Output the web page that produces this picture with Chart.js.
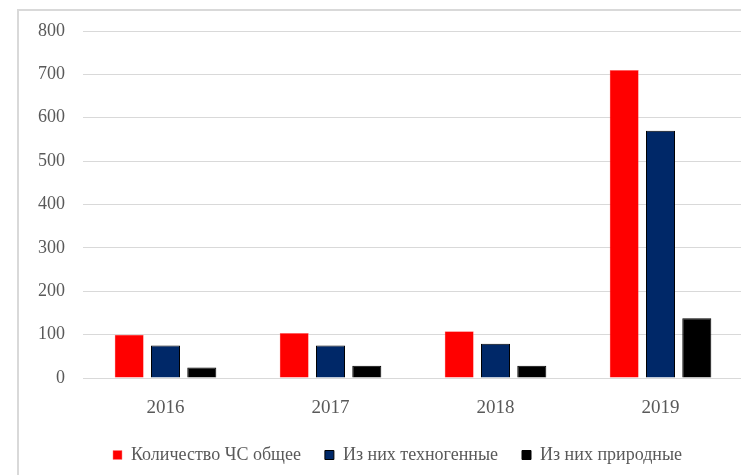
<!DOCTYPE html>
<html>
<head>
<meta charset="utf-8">
<script src="https://cdn.jsdelivr.net/npm/chart.js@4"></script>
<style>
  html, body { margin: 0; padding: 0; background: #fff; overflow: hidden; width: 741px; height: 475px; }
  #frame { position: absolute; left: 17px; top: 9px; width: 800px; height: 600px; border-left: 2px solid #d9d9d9; border-top: 2px solid #d9d9d9; }
  #wrap { position: absolute; left: 0; top: 0; width: 743px; height: 475px; }
</style>
</head>
<body>
<div id="frame"></div>
<div id="wrap"><canvas id="c" width="743" height="475"></canvas></div>
<script>
const categories = ['2016', '2017', '2018', '2019'];
const seriesNames = ['Количество ЧС общее', 'Из них техногенные', 'Из них природные'];
const totalValues = [100, 104, 108, 710];
const technoValues = [75, 75, 79, 570];
const naturalValues = [24, 28, 28, 138];
const yTicks = [0, 100, 200, 300, 400, 500, 600, 700, 800];

const textGray = '#595959';
const serif = '"Liberation Serif", "Times New Roman", serif';

const legendShift = {
  id: 'legendShift',
  afterLayout(chart) {
    const l = chart.legend;
    if (l) { l.left += 26; l.right += 26; }
  }
};

new Chart(document.getElementById('c'), {
  type: 'bar',
  data: {
    labels: categories,
    datasets: [
      { label: seriesNames[0], data: totalValues, backgroundColor: '#ff0000', borderColor: '#ff8080', borderWidth: 0.5 },
      { label: seriesNames[1], data: technoValues, backgroundColor: '#002868', borderColor: '#000000', borderWidth: 1 },
      { label: seriesNames[2], data: naturalValues, backgroundColor: '#000000', borderColor: '#000000', borderWidth: 1 }
    ]
  },
  plugins: [legendShift],
  options: {
    responsive: false,
    animation: false,
    devicePixelRatio: 1,
    layout: { padding: { top: 31, right: 0, bottom: 1, left: 0 } },
    datasets: { bar: { categoryPercentage: 0.66, barPercentage: 0.8 } },
    plugins: {
      tooltip: { enabled: false },
      legend: {
        position: 'bottom',
        labels: {
          color: textGray,
          font: { family: serif, size: 18 },
          boxWidth: 9,
          boxHeight: 9,
          padding: 24
        }
      }
    },
    scales: {
      x: {
        grid: { display: false, drawTicks: false },
        border: { display: false },
        ticks: { color: textGray, font: { family: serif, size: 19 }, padding: 19 },
        afterFit: (s) => { s.height = 44; }
      },
      y: {
        min: yTicks[0],
        max: yTicks[yTicks.length - 1],
        afterBuildTicks: (s) => { s.ticks = yTicks.map(v => ({ value: v })); },
        grid: { color: '#d9d9d9', lineWidth: 1, drawTicks: false },
        border: { display: false },
        ticks: { color: textGray, font: { family: serif, size: 18 }, padding: 18 },
        afterFit: (s) => { s.width = 83; }
      }
    }
  }
});
</script>
</body>
</html>
